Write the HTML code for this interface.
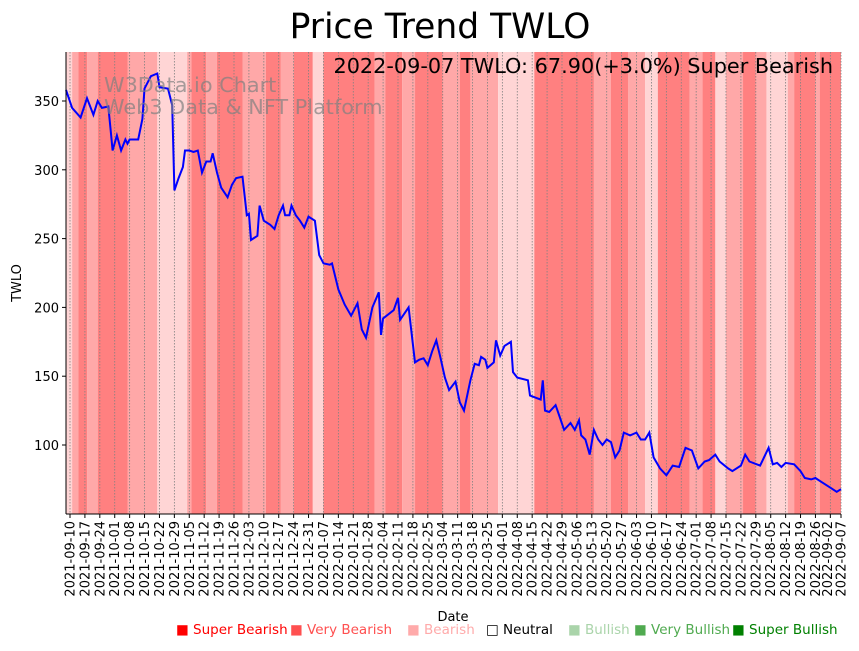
<!DOCTYPE html>
<html><head><meta charset="utf-8"><style>
body{margin:0;background:#fff;}
svg text{font-family:"DejaVu Sans","Liberation Sans",sans-serif;}
</style></head><body>
<svg id="chart" width="859" height="646" xmlns="http://www.w3.org/2000/svg">
<g id="bands"></g>
<g id="grid"></g>
<path id="line" fill="none" stroke="#0000ff" stroke-width="2"/>
<g id="axes"></g>
<text x="440" y="38" font-size="34.5" text-anchor="middle">Price Trend TWLO</text>
<text x="833" y="73" font-size="20.8" text-anchor="end">2022-09-07 TWLO: 67.90(+3.0%) Super Bearish</text>
<text x="104" y="92" font-size="20.8" fill="#808080" fill-opacity="0.7">W3Data.io Chart</text>
<text x="104" y="114" font-size="20.8" fill="#808080" fill-opacity="0.7">Web3 Data &amp; NFT Platform</text>
<text x="453" y="621" font-size="13" text-anchor="middle">Date</text>
<text x="0" y="0" font-size="13" text-anchor="middle" transform="translate(21,283) rotate(-90)">TWLO</text>
<g font-size="13.5">
<text x="176" y="634" fill="#ff0000">■ Super Bearish</text>
<text x="290" y="634" fill="#ff5050">■ Very Bearish</text>
<text x="407" y="634" fill="#ffaaaa">■ Bearish</text>
<text x="486" y="634" fill="#000">□ Neutral</text>
<text x="568" y="634" fill="#aad4aa">■ Bullish</text>
<text x="634" y="634" fill="#50aa50">■ Very Bullish</text>
<text x="732" y="634" fill="#008000">■ Super Bullish</text>
</g>
</svg>
<script>
const priceDays=[-2,-1,1,5,8,11,13,15,18,19,20,22,24,26,27,28,32,34,35,38,41,42,46,48,49,51,53,54,56,58,60,62,64,66,67,69,71,74,76,78,81,83,84,85,88,89,91,94,96,98,100,101,103,104,106,108,110,112,115,117,119,122,123,126,129,132,135,137,139,142,145,146,147,152,154,155,159,162,164,166,168,170,172,174,176,178,181,183,185,188,190,192,193,195,196,199,200,202,204,207,208,210,215,216,221,222,223,225,228,230,232,235,237,239,240,242,244,246,248,250,252,254,256,258,260,263,266,268,270,272,274,277,280,283,286,289,292,295,298,300,303,305,309,311,315,317,319,324,328,330,332,334,336,340,343,345,348,350,353,357,360,362];
const priceValues=[358,354,345,338,352,340,350,345,346,330,314,325,314,322,319,322,322,337,359,368,370,360,359,347,285,294,302,314,314,313,314,298,306,306,312,298,287,280,289,294,295,267,268,249,252,274,263,260,257,267,274,267,267,274,267,263,258,266,263,238,232,231,232,213,202,194,203,184,178,200,211,180,192,198,207,191,200,160,162,163,158,168,176,163,149,140,146,131,125,147,159,158,164,162,156,160,176,165,172,175,153,149,147,136,133,147,125,124,129,120,111,116,111,118,107,104,93,111,104,100,104,102,91,96,109,107,109,104,104,109,91,83,78,85,84,98,96,83,88,89,93,88,83,81,85,93,88,85,98,86,87,84,87,86,81,76,75,76,73,69,66,67.9];
const bandStarts=[-2,1,4,8,13,27,41,55,57,64,69,81,92,99,105,114,119,143,148,156,162,175,183,188,201,218,246,254,262,270,276,291,297,303,308,316,322,327,337,340,350,352];
const bandLevels=[3,2,1,2,1,2,3,2,1,2,1,2,1,2,1,3,1,2,1,2,1,2,1,2,3,1,2,1,2,3,1,2,1,3,2,1,2,3,2,1,2,1];
const bandEnd=363;
const yTicks=[100,150,200,250,300,350];
const tickLabels=[];
(function(){const s=new Date(Date.UTC(2021,8,10));for(let k=0;k<=51;k++){const d=new Date(s.getTime()+k*7*864e5);tickLabels.push(d.toISOString().slice(0,10));}tickLabels.push('2022-09-07');})();
const tickDays=tickLabels.map(t=>Math.round((Date.parse(t)-Date.UTC(2021,8,10))/864e5));
const L=66,R=841,T=52,B=514;
const x=d=>70+d*(771/362);
const y=v=>445-(v-100)*1.376;
const NS='http://www.w3.org/2000/svg';
const colors={1:'#ff8080',2:'#ffa8a8',3:'#ffd5d5'};
const bands=document.getElementById('bands');
bandStarts.forEach((s,i)=>{const e=i+1<bandStarts.length?bandStarts[i+1]:bandEnd;const r=document.createElementNS(NS,'rect');


const x0=Math.max(L,x(s)),x1=Math.min(R,x(e));r.setAttribute('x',x0);r.setAttribute('width',x1-x0);r.setAttribute('y',T);r.setAttribute('height',B-T);r.setAttribute('fill',colors[bandLevels[i]]);bands.appendChild(r);});
const grid=document.getElementById('grid'),axes=document.getElementById('axes');
tickDays.forEach((d,i)=>{const xx=x(d);const l=document.createElementNS(NS,'line');


l.setAttribute('x1',xx);l.setAttribute('x2',xx);l.setAttribute('y1',T);l.setAttribute('y2',B);l.setAttribute('stroke','#808080');l.setAttribute('stroke-dasharray','1.5,1.5');l.setAttribute('stroke-width','0.8');grid.appendChild(l);
const tk=document.createElementNS(NS,'line');


tk.setAttribute('x1',xx);tk.setAttribute('x2',xx);tk.setAttribute('y1',B);tk.setAttribute('y2',B+4);tk.setAttribute('stroke','#000');axes.appendChild(tk);
const t=document.createElementNS(NS,'text');


const lx=i===tickDays.length-2?xx-3:xx;
t.setAttribute('font-size','13');t.setAttribute('text-anchor','end');t.setAttribute('transform',`translate(${lx+4.5},${B+7}) rotate(-90)`);t.textContent=tickLabels[i];axes.appendChild(t);});
yTicks.forEach(v=>{const yy=y(v);const tk=document.createElementNS(NS,'line');


tk.setAttribute('x1',L-4);tk.setAttribute('x2',L);tk.setAttribute('y1',yy);tk.setAttribute('y2',yy);tk.setAttribute('stroke','#000');axes.appendChild(tk);
const t=document.createElementNS(NS,'text');


t.setAttribute('font-size','13');t.setAttribute('text-anchor','end');t.setAttribute('x',L-7);t.setAttribute('y',yy+5);t.textContent=v;axes.appendChild(t);});
[[L,T,L,B,'y-axis-spine'],[L,B,R,B,'x-axis-spine']].forEach(a=>{const l=document.createElementNS(NS,'line');


l.setAttribute('x1',a[0]);l.setAttribute('y1',a[1]);l.setAttribute('x2',a[2]);l.setAttribute('y2',a[3]);l.setAttribute('stroke','#000');axes.appendChild(l);});
document.getElementById('line').setAttribute('d',priceDays.map((d,i)=>(i?'L':'M')+Math.max(L,x(d)).toFixed(1)+','+y(priceValues[i]).toFixed(1)).join(''));
</script>
</body></html>
